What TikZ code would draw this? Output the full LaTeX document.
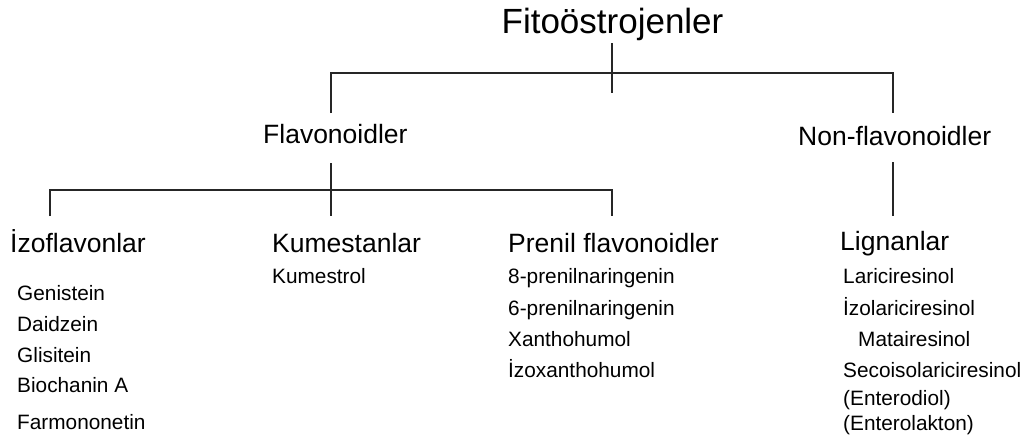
\documentclass[tikz,border=0pt]{standalone}
\usepackage{fontspec}
\setmainfont{Liberation Sans}
\begin{document}
\begin{tikzpicture}[x=1pt,y=1pt,
  conn/.style={draw=black!85, line width=1.2pt},
  lvl1/.style={inner sep=0pt, font=\fontsize{35}{40}\selectfont},
  lvl2/.style={inner sep=0pt, font=\fontsize{26.5}{30}\selectfont},
  item/.style={inner sep=0pt, anchor=base west, font=\fontsize{20.8}{24}\selectfont}]
\useasboundingbox[fill=white] (0,0) rectangle (1031,-439);
% headings
\node[lvl1, anchor=base] (fito) at (612.5,-33) {Fitoöstrojenler};
\node[lvl2, anchor=base west] (flav) at (263,-143) {Flavonoidler};
\node[lvl2, anchor=base west] (nonflav) at (798,-145) {Non-flavonoidler};
\node[lvl2, anchor=base west] (izo) at (10,-252) {İzoflavonlar};
\node[lvl2, anchor=base west] (kum) at (272,-252) {Kumestanlar};
\node[lvl2, anchor=base west] (pren) at (508,-252) {Prenil flavonoidler};
\node[lvl2, anchor=base west] (lig) at (840,-250) {Lignanlar};
% items
\node[item] (i1) at (17,-300) {Genistein};
\node[item] (i2) at (17,-331) {Daidzein};
\node[item] (i3) at (17,-362) {Glisitein};
\node[item] (i4) at (17,-392) {Biochanin A};
\node[item] (i5) at (17,-429) {Farmononetin};
\node[item] (k1) at (272,-283) {Kumestrol};
\node[item] (p1) at (508,-283) {8-prenilnaringenin};
\node[item] (p2) at (508,-315) {6-prenilnaringenin};
\node[item] (p3) at (508,-346) {Xanthohumol};
\node[item] (p4) at (508,-377) {İzoxanthohumol};
\node[item] (l1) at (843,-283) {Lariciresinol};
\node[item] (l2) at (843,-315) {İzolariciresinol};
\node[item] (l3) at (858,-346) {Matairesinol};
\node[item] (l4) at (843,-377) {Secoisolariciresinol};
\node[item] (l5) at (843,-405) {(Enterodiol)};
\node[item] (l6) at (843,-430) {(Enterolakton)};
% junction coordinates
\coordinate (f0) at (612,-43);
\coordinate (f1) at (612,-93);
\coordinate (b1) at (612,-73);
\coordinate (flt) at (331,-113);
\coordinate (nft) at (893,-113);
\coordinate (flb) at (331,-163);
\coordinate (b2) at (331,-190);
\coordinate (fld) at (331,-216);
\coordinate (izt) at (50,-216);
\coordinate (prt) at (612,-216);
\coordinate (nfb) at (893,-162);
\coordinate (lgt) at (893,-216);
% connectors
\draw[conn] (f0) -- (f1);
\draw[conn] (flt) |- (b1) -| (nft);
\draw[conn] (flb) -- (fld);
\draw[conn] (izt) |- (b2) -| (prt);
\draw[conn] (nfb) -- (lgt);
\end{tikzpicture}
\end{document}
